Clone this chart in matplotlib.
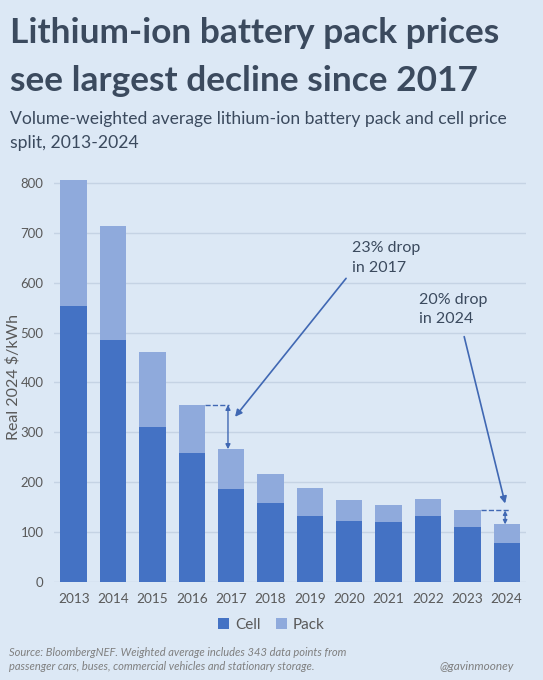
import matplotlib.pyplot as plt
import numpy as np

# values (real 2024 $/kWh)
years = ['2013', '2014', '2015', '2016', '2017', '2018', '2019', '2020',
         '2021', '2022', '2023', '2024']
total = [806, 715, 462, 355, 266, 217, 189, 164, 154, 166, 143, 115]
cell = [554, 486, 310, 258, 187, 157, 131, 121, 119, 131, 109, 77]
pack = [t - c for t, c in zip(total, cell)]

bg = '#dce8f5'
dark = '#3b4a5e'
grey = '#595959'
cell_col = '#4472c4'
pack_col = '#8faadc'
arrow_col = '#4068b3'

plt.rcParams['font.family'] = ['Lato', 'DejaVu Sans']

fig = plt.figure(figsize=(5.43, 6.8), dpi=100, facecolor=bg)
ax = fig.add_axes([0.0994, 0.1446, 0.870, 0.6006], facecolor=bg)

x = np.arange(len(years))
ax.bar(x, cell, width=0.67, color=cell_col, label='Cell', zorder=3)
ax.bar(x, pack, width=0.67, bottom=cell, color=pack_col, label='Pack', zorder=3)

ax.set_xlim(-0.5, len(years) - 0.5)
ax.set_ylim(0, 820)
ax.set_yticks(range(0, 801, 100))
ax.set_xticks(x)
ax.set_xticklabels(years)
ax.tick_params(length=0, labelsize=9.8, colors=grey)
ax.tick_params(axis='x', pad=8)
ax.tick_params(axis='y', pad=7.5, labelsize=9.5)
ax.grid(axis='y', color='#c5d3e4', linewidth=1, zorder=0)
for s in ax.spines.values():
    s.set_visible(False)
ax.set_ylabel('Real 2024 $/kWh', fontsize=11.5, color=grey)
ax.yaxis.set_label_coords(-0.07, 0.5)

# 2017 drop marker
ax.plot([3.335, 3.95], [total[3], total[3]], ls='--', lw=1, color=arrow_col, zorder=4)
ax.annotate('', xy=(3.92, total[4]), xytext=(3.92, total[3]),
            arrowprops=dict(arrowstyle='<|-|>', color=arrow_col, lw=1,
                            mutation_scale=7, shrinkA=0, shrinkB=0), zorder=5)
ax.annotate('', xy=(4.1, 331), xytext=(6.92, 609),
            arrowprops=dict(arrowstyle='-|>', color=arrow_col, lw=1.2,
                            mutation_scale=10, shrinkA=0, shrinkB=0))
ax.text(7.06, 683, '23% drop\nin 2017', fontsize=11.5, color=dark,
        va='top', ha='left', linespacing=1.5)

# 2024 drop marker
ax.plot([10.335, 11.05], [total[10], total[10]], ls='--', lw=1, color=arrow_col, zorder=4)
ax.annotate('', xy=(10.96, total[11]), xytext=(10.96, total[10]),
            arrowprops=dict(arrowstyle='<|-|>', color=arrow_col, lw=1,
                            mutation_scale=6, shrinkA=0, shrinkB=0), zorder=5)
ax.annotate('', xy=(10.96, 157), xytext=(9.92, 492),
            arrowprops=dict(arrowstyle='-|>', color=arrow_col, lw=1.2,
                            mutation_scale=10, shrinkA=0, shrinkB=0))
ax.text(8.78, 580, '20% drop\nin 2024', fontsize=11.5, color=dark,
        va='top', ha='left', linespacing=1.5)

leg = fig.legend(loc='center', bbox_to_anchor=(0.5, 1 - 625 / 680), ncol=2,
                 frameon=False, fontsize=11, handlelength=0.7, handleheight=0.7,
                 handletextpad=0.4, columnspacing=1.0)
for t in leg.get_texts():
    t.set_color(grey)

fig.text(10 / 543, 1 - 43 / 680, 'Lithium-ion battery pack prices',
         fontsize=25.4, fontweight='bold', color=dark, va='baseline')
fig.text(10 / 543, 1 - 91 / 680, 'see largest decline since 2017',
         fontsize=25.4, fontweight='bold', color=dark, va='baseline')
fig.text(10 / 543, 1 - 124 / 680,
         'Volume-weighted average lithium-ion battery pack and cell price',
         fontsize=12.6, color=dark, va='baseline')
fig.text(10 / 543, 1 - 148 / 680, 'split, 2013-2024',
         fontsize=12.6, color=dark, va='baseline')

fig.text(9 / 543, 1 - 656 / 680,
         'Source: BloombergNEF. Weighted average includes 343 data points from',
         fontsize=8, style='italic', color='#7f7f7f', va='baseline')
fig.text(9 / 543, 1 - 670 / 680,
         'passenger cars, buses, commercial vehicles and stationary storage.',
         fontsize=8, style='italic', color='#7f7f7f', va='baseline')
fig.text(514 / 543, 1 - 670 / 680, '@gavinmooney', fontsize=8.5, style='italic',
         color='#7f7f7f', va='baseline', ha='right')

fig.savefig('out.png', dpi=100, facecolor=bg)
